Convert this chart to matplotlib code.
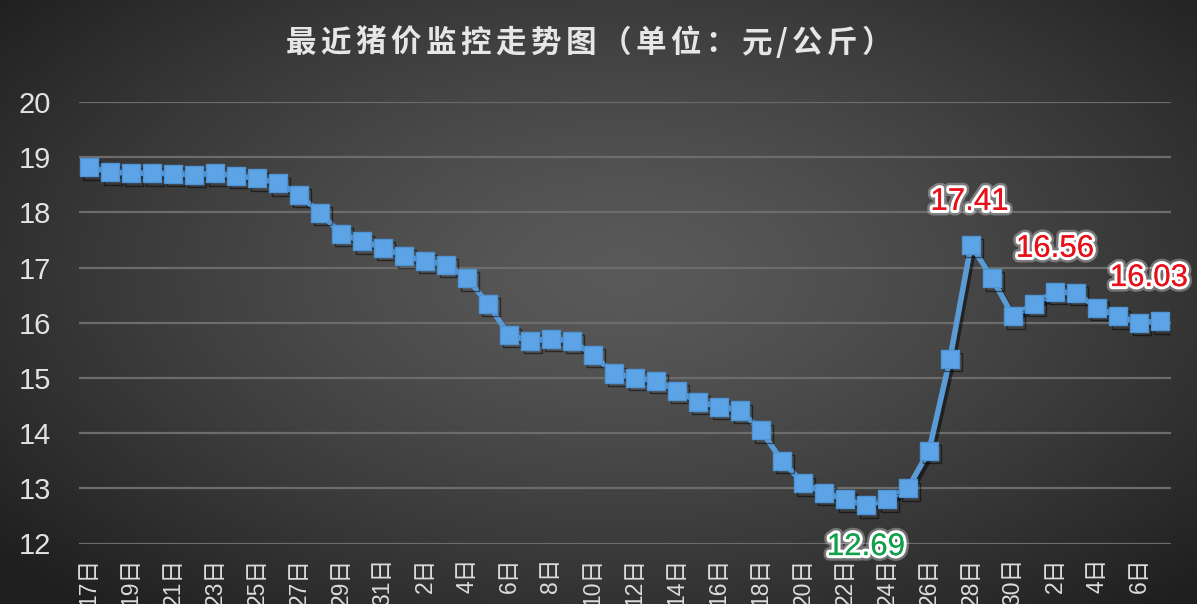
import matplotlib.pyplot as plt
import matplotlib.patheffects as pe
import numpy as np

plt.rcParams["font.family"] = ["Liberation Sans", "Noto Sans CJK SC", "DejaVu Sans"]

TITLE = "最近猪价监控走势图（单位：元/公斤）"

# one reading per day: 17th..31st, 1st..30th, 1st..7th
days = list(range(17, 32)) + list(range(1, 31)) + list(range(1, 8))
prices = [
    18.82, 18.73, 18.71, 18.71, 18.70, 18.68, 18.71, 18.66, 18.62, 18.53,
    18.32, 17.99, 17.61, 17.48, 17.36, 17.21, 17.12, 17.05, 16.81, 16.34,
    15.78, 15.67, 15.71, 15.67, 15.42, 15.08, 15.00, 14.95, 14.77, 14.57,
    14.48, 14.41, 14.05, 13.50, 13.09, 12.92, 12.80, 12.69, 12.80, 13.00,
    13.68, 15.35, 17.41, 16.81, 16.12, 16.34, 16.56, 16.54, 16.27, 16.12,
    16.00, 16.03,
]
labels = [f"{d}日" for d in days]

# highlighted points: (index, colour, dx, dy) offsets in points
highlights = [(37, "#12a04a", 0, -30), (42, "#e8101a", -1, 31),
              (46, "#e8101a", 0, 31), (51, "#e8101a", -8, 31)]

W, H = 1197, 604
fig = plt.figure(figsize=(W / 100, H / 100), dpi=100)

# radial grey background
bg = fig.add_axes([0, 0, 1, 1], zorder=-10)
yy, xx = np.mgrid[0:1:300j, 0:1:600j]
r = np.sqrt(((xx - 0.52) / 0.5) ** 2 + ((yy - 0.55) / 0.55) ** 2)
v = np.clip(90 - 40 * r ** 1.3, 30, 90) / 255.0
bg.imshow(np.dstack([v, v, v]), extent=[0, 1, 0, 1], aspect="auto", origin="lower")
bg.axis("off")

ax = fig.add_axes([78.5 / W, 1 - 543.5 / H, (1170.5 - 78.5) / W, (543.5 - 102) / H])
ax.set_facecolor("none")

x = np.arange(len(prices))
ax.plot(
    x, prices, color="#5b9bd5", lw=4, marker="s", ms=13,
    mfc="#5ca4e6", mec="#4f95d6", mew=1, zorder=3,
    path_effects=[pe.SimpleLineShadow(offset=(2, -2.5), shadow_color="black", alpha=0.5), pe.Normal()],
)

glow = [pe.withStroke(linewidth=8, foreground=(1, 1, 1, 0.3)),
        pe.withStroke(linewidth=4.5, foreground="white"), pe.Normal()]
for i, col, dx, dy in highlights:
    ax.annotate(f"{prices[i]:.2f}", (x[i], prices[i]), xytext=(dx, dy),
                textcoords="offset points", ha="center", va="center",
                fontsize=22.5, color=col, path_effects=glow, zorder=5,
                annotation_clip=False)

ax.set_xlim(-0.5, len(prices) - 0.5)
ax.set_ylim(12, 20)
ax.set_yticks(range(12, 21))
ax.set_xticks(x[::2])
ax.set_xticklabels(labels[::2], rotation=90, va="top", ha="center")
ax.tick_params(axis="x", length=0, pad=10, labelsize=16.5, labelcolor="#dcdcdc")
ax.tick_params(axis="y", length=0, pad=20, labelsize=21, labelcolor="#e2e2e2")
ax.grid(axis="y", color="#6c6c6c", lw=1.6)
ax.set_axisbelow(True)
for s in ax.spines.values():
    s.set_visible(False)

# title with extra letter spacing, laid out char by char
renderer = fig.canvas.get_renderer()
tfont = dict(fontsize=22, fontweight="bold", color="#e6e6e6",
             family=["Noto Sans CJK SC", "DejaVu Sans"])
chars = [fig.text(0, 1 - 43 / H, c, ha="left", va="center", **tfont) for c in TITLE]
widths = [t.get_window_extent(renderer).width for t in chars]
gap = 4.5
total = sum(widths) + gap * (len(chars) - 1)
cx = 589 - total / 2
for t, w in zip(chars, widths):
    t.set_x(cx / W)
    cx += w + gap

fig.savefig("out.png", dpi=100)
